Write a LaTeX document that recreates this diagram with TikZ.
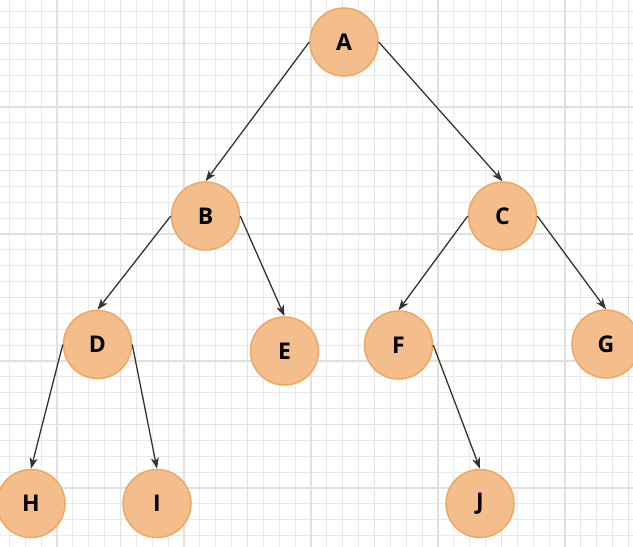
\documentclass[tikz,border=0pt]{standalone}
\usepackage{fontspec}
\setmainfont{Open Sans}
\usetikzlibrary{arrows.meta}
\definecolor{nodefill}{HTML}{F4BE8C}
\definecolor{nodedraw}{HTML}{EDA762}
\definecolor{edgecol}{HTML}{333333}
\definecolor{gridminor}{HTML}{E9E9E9}
\definecolor{gridmajor}{HTML}{E0E0E0}
\begin{document}
\begin{tikzpicture}[x=1pt,y=-1pt,
  treenode/.style={circle,draw=nodedraw,fill=nodefill,line width=1.5pt,minimum size=68pt,inner sep=0pt,font=\fontsize{23}{23}\selectfont\bfseries},
  edge/.style={draw=edgecol,line width=1.3pt,-{Stealth[length=11pt,width=8pt,inset=3pt]}}]
\useasboundingbox (0,0) rectangle (633,547);
\fill[white] (0,0) rectangle (633,547);
\begin{scope}
\clip (0,0) rectangle (633,547);
\foreach \i in {-1,...,40} {
  \draw[gridminor,line width=1pt] ({9.4+15.875*\i},0) -- ({9.4+15.875*\i},547);
  \draw[gridminor,line width=1pt] (0,{11.75+15.875*\i}) -- (633,{11.75+15.875*\i});
}
\foreach \i in {-1,...,10} {
  \draw[gridmajor,line width=1.2pt] ({57+63.5*\i},0) -- ({57+63.5*\i},547);
  \draw[gridmajor,line width=1.2pt] (0,{43.5+63.5*\i}) -- (633,{43.5+63.5*\i});
}
\end{scope}
\node[treenode] (A) at (344,42) {A};
\node[treenode] (B) at (205.5,216) {B};
\node[treenode] (C) at (502.5,216) {C};
\node[treenode] (D) at (97.5,344.5) {D};
\node[treenode] (E) at (284.5,351) {E};
\node[treenode] (F) at (398.5,345) {F};
\node[treenode] (G) at (606,344) {G};
\node[treenode] (H) at (31,503.5) {H};
\node[treenode] (I) at (157,503.5) {I};
\node[treenode] (J) at (480,503.5) {J};
\draw[edge] (A.west) -- (B.north);
\draw[edge] (A.east) -- (C.north);
\draw[edge] (B.west) -- (D.north);
\draw[edge] (B.east) -- (E.north);
\draw[edge] (C.west) -- (F.north);
\draw[edge] (C.east) -- (G.north);
\draw[edge] (D.west) -- (H.north);
\draw[edge] (D.east) -- (I.north);
\draw[edge] (F.east) -- (J.north);
\end{tikzpicture}
\end{document}
